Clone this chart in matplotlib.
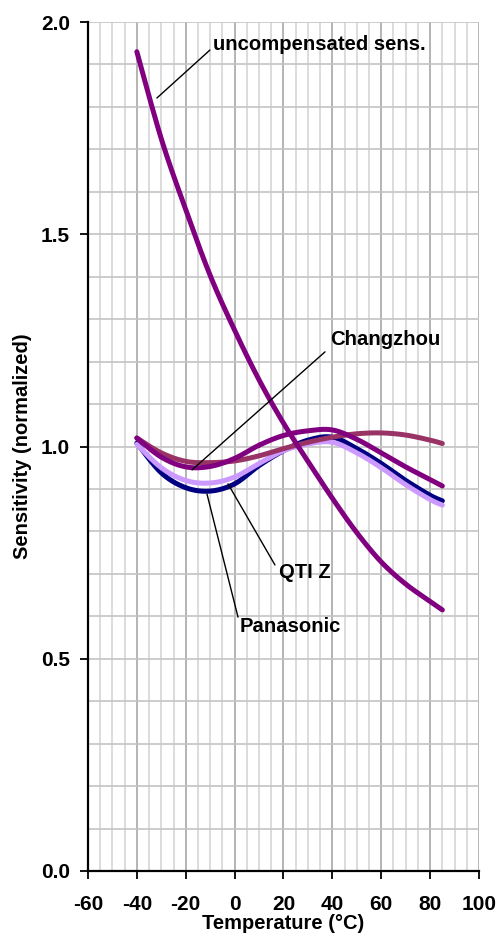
import numpy as np
import matplotlib
matplotlib.use('Agg')
import matplotlib.pyplot as plt
from matplotlib.ticker import MultipleLocator

plt.rcParams['font.family'] = ['Liberation Sans', 'DejaVu Sans']
plt.rcParams['axes.unicode_minus'] = False

# temperatures (deg C) where the curves were read
temps = [-40, -30, -20, -10, 0, 10, 20, 30, 40, 50, 60, 70, 80, 85]

# normalized sensitivity per series
uncompensated = [1.93, 1.725, 1.558, 1.403, 1.274, 1.157, 1.055, 0.965, 0.878, 0.797, 0.728, 0.676, 0.635, 0.615]
mauve = [1.02, 0.985, 0.965, 0.962, 0.966, 0.978, 0.995, 1.01, 1.022, 1.03, 1.032, 1.027, 1.015, 1.007]
changzhou = [1.02, 0.975, 0.952, 0.953, 0.972, 1.003, 1.026, 1.037, 1.039, 1.017, 0.985, 0.952, 0.922, 0.907]
panasonic = [1.008, 0.938, 0.903, 0.895, 0.912, 0.955, 0.99, 1.015, 1.022, 0.995, 0.96, 0.92, 0.885, 0.872]
qti_z = [1.005, 0.95, 0.92, 0.914, 0.928, 0.96, 0.99, 1.006, 1.01, 0.985, 0.95, 0.91, 0.875, 0.862]


def smooth(x, y, n=24):
    ''' Catmull-Rom curve through the points, like a smoothed line in a spreadsheet '''
    p = np.column_stack([x, y]).astype(float)
    p = np.vstack([p[0], p, p[-1]])
    out = []
    t = np.linspace(0, 1, n)[:, None]
    for i in range(1, len(p) - 2):
        p0, p1, p2, p3 = p[i - 1], p[i], p[i + 1], p[i + 2]
        seg = 0.5 * ((2 * p1) + (-p0 + p2) * t + (2 * p0 - 5 * p1 + 4 * p2 - p3) * t ** 2
                     + (-p0 + 3 * p1 - 3 * p2 + p3) * t ** 3)
        out.append(seg)
    out = np.vstack(out)
    return out[:, 0], out[:, 1]


fig = plt.figure(figsize=(4.97, 9.42), dpi=100)
ax = fig.add_axes([0.177, 0.0754, 0.7868, 0.9012])

ax.set_xlim(-60, 100)
ax.set_ylim(0, 2.0)

# grid
ax.xaxis.set_major_locator(MultipleLocator(20))
ax.xaxis.set_minor_locator(MultipleLocator(5))
ax.yaxis.set_major_locator(MultipleLocator(0.5))
ax.yaxis.set_minor_locator(MultipleLocator(0.1))
ax.grid(which='minor', axis='x', color='#d6d6d6', lw=1.2)
ax.grid(which='major', axis='x', color='#a8a8a8', lw=1.2)
ax.grid(which='both', axis='y', color='#c4c4c4', lw=1.2)
ax.set_axisbelow(True)

series = [
    (panasonic, '#000080', 3.6),
    (qti_z, '#cc99ff', 3.6),
    (mauve, '#993366', 3.6),
    (changzhou, '#800080', 3.6),
    (uncompensated, '#800080', 3.6),
]
for vals, col, lw in series:
    xs, ys = smooth(temps, vals)
    ax.plot(xs, ys, color=col, lw=lw, solid_capstyle='round', zorder=3)

# labels with leader lines
labels = [
    ('uncompensated sens.', (-31.8, 1.821), (-10.1, 1.934), (-8.9, 1.946)),
    ('Changzhou', (-17.4, 0.945), (37.0, 1.223), (39.0, 1.251)),
    ('QTI Z', (-2.7, 0.912), (16.5, 0.721), (18.1, 0.702)),
    ('Panasonic', (-11.3, 0.888), (1.4, 0.598), (2.2, 0.575)),
]
for txt, tip, tail, pos in labels:
    ax.annotate('', xy=tip, xytext=tail,
                arrowprops=dict(arrowstyle='-', color='black', lw=1.0, shrinkA=0, shrinkB=0),
                zorder=4)
    ax.text(pos[0], pos[1], txt, fontsize=14.6, fontweight='bold', ha='left', va='center', zorder=5)

for s in ['top', 'right']:
    ax.spines[s].set_visible(False)
for s in ['left', 'bottom']:
    ax.spines[s].set_linewidth(1.6)
    ax.spines[s].set_zorder(6)

ax.tick_params(which='major', direction='out', length=6, width=1.3)
ax.tick_params(which='minor', length=0)
ax.tick_params(axis='x', pad=11)
ax.tick_params(axis='y', pad=7)
ax.set_yticks([0, 0.5, 1.0, 1.5, 2.0])
ax.set_yticklabels(['0.0', '0.5', '1.0', '1.5', '2.0'])
for lab in ax.get_xticklabels() + ax.get_yticklabels():
    lab.set_fontsize(15)
    lab.set_fontweight('bold')

ax.set_xlabel('Temperature (°C)', fontsize=14.5, fontweight='bold', labelpad=0)
ax.set_ylabel('Sensitivity (normalized)', fontsize=14.5, fontweight='bold', labelpad=6)

fig.savefig('out.png', dpi=100)
